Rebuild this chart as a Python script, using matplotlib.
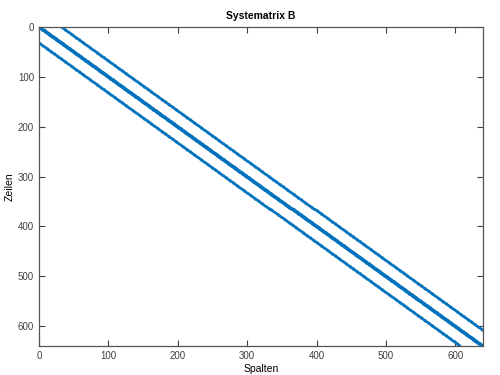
"""Sparsity pattern of the system matrix B (spy-style plot)."""

import matplotlib
matplotlib.use("Agg")
import matplotlib.pyplot as plt
import numpy as np

# matrix size and the non-zero diagonals (offset = column - row)
n = 640
offsets = [-32, -1, 0, 1, 32]

rows = []
cols = []
for k in offsets:
    r = np.arange(max(0, -k), min(n, n - k))
    rows.append(r)
    cols.append(r + k)
rows = np.concatenate(rows)
cols = np.concatenate(cols)

plt.rcParams["font.family"] = ["Liberation Sans", "DejaVu Sans"]

fig = plt.figure(figsize=(5, 3.75), dpi=100)
ax = fig.add_axes([0.078, 0.077, 0.888, 0.851])
ax.plot(cols, rows, ".", color="#0072bd", markersize=3.6, markeredgewidth=0)

ax.set_xlim(0, n)
ax.set_ylim(n, 0)
ax.set_xticks(range(0, 601, 100))
ax.set_yticks(range(0, 601, 100))
ax.tick_params(direction="in", length=4, width=0.8, labelsize=7,
               top=True, right=True, colors="#404040")
for s in ax.spines.values():
    s.set_color("#555555")
    s.set_linewidth(0.9)

ax.set_title("Systematrix B", fontsize=7.5, fontweight="bold", pad=6)
ax.set_xlabel("Spalten", fontsize=7.5, labelpad=2)
ax.set_ylabel("Zeilen", fontsize=7.5, labelpad=2)

fig.savefig("out.png", dpi=100)
plt.close(fig)
